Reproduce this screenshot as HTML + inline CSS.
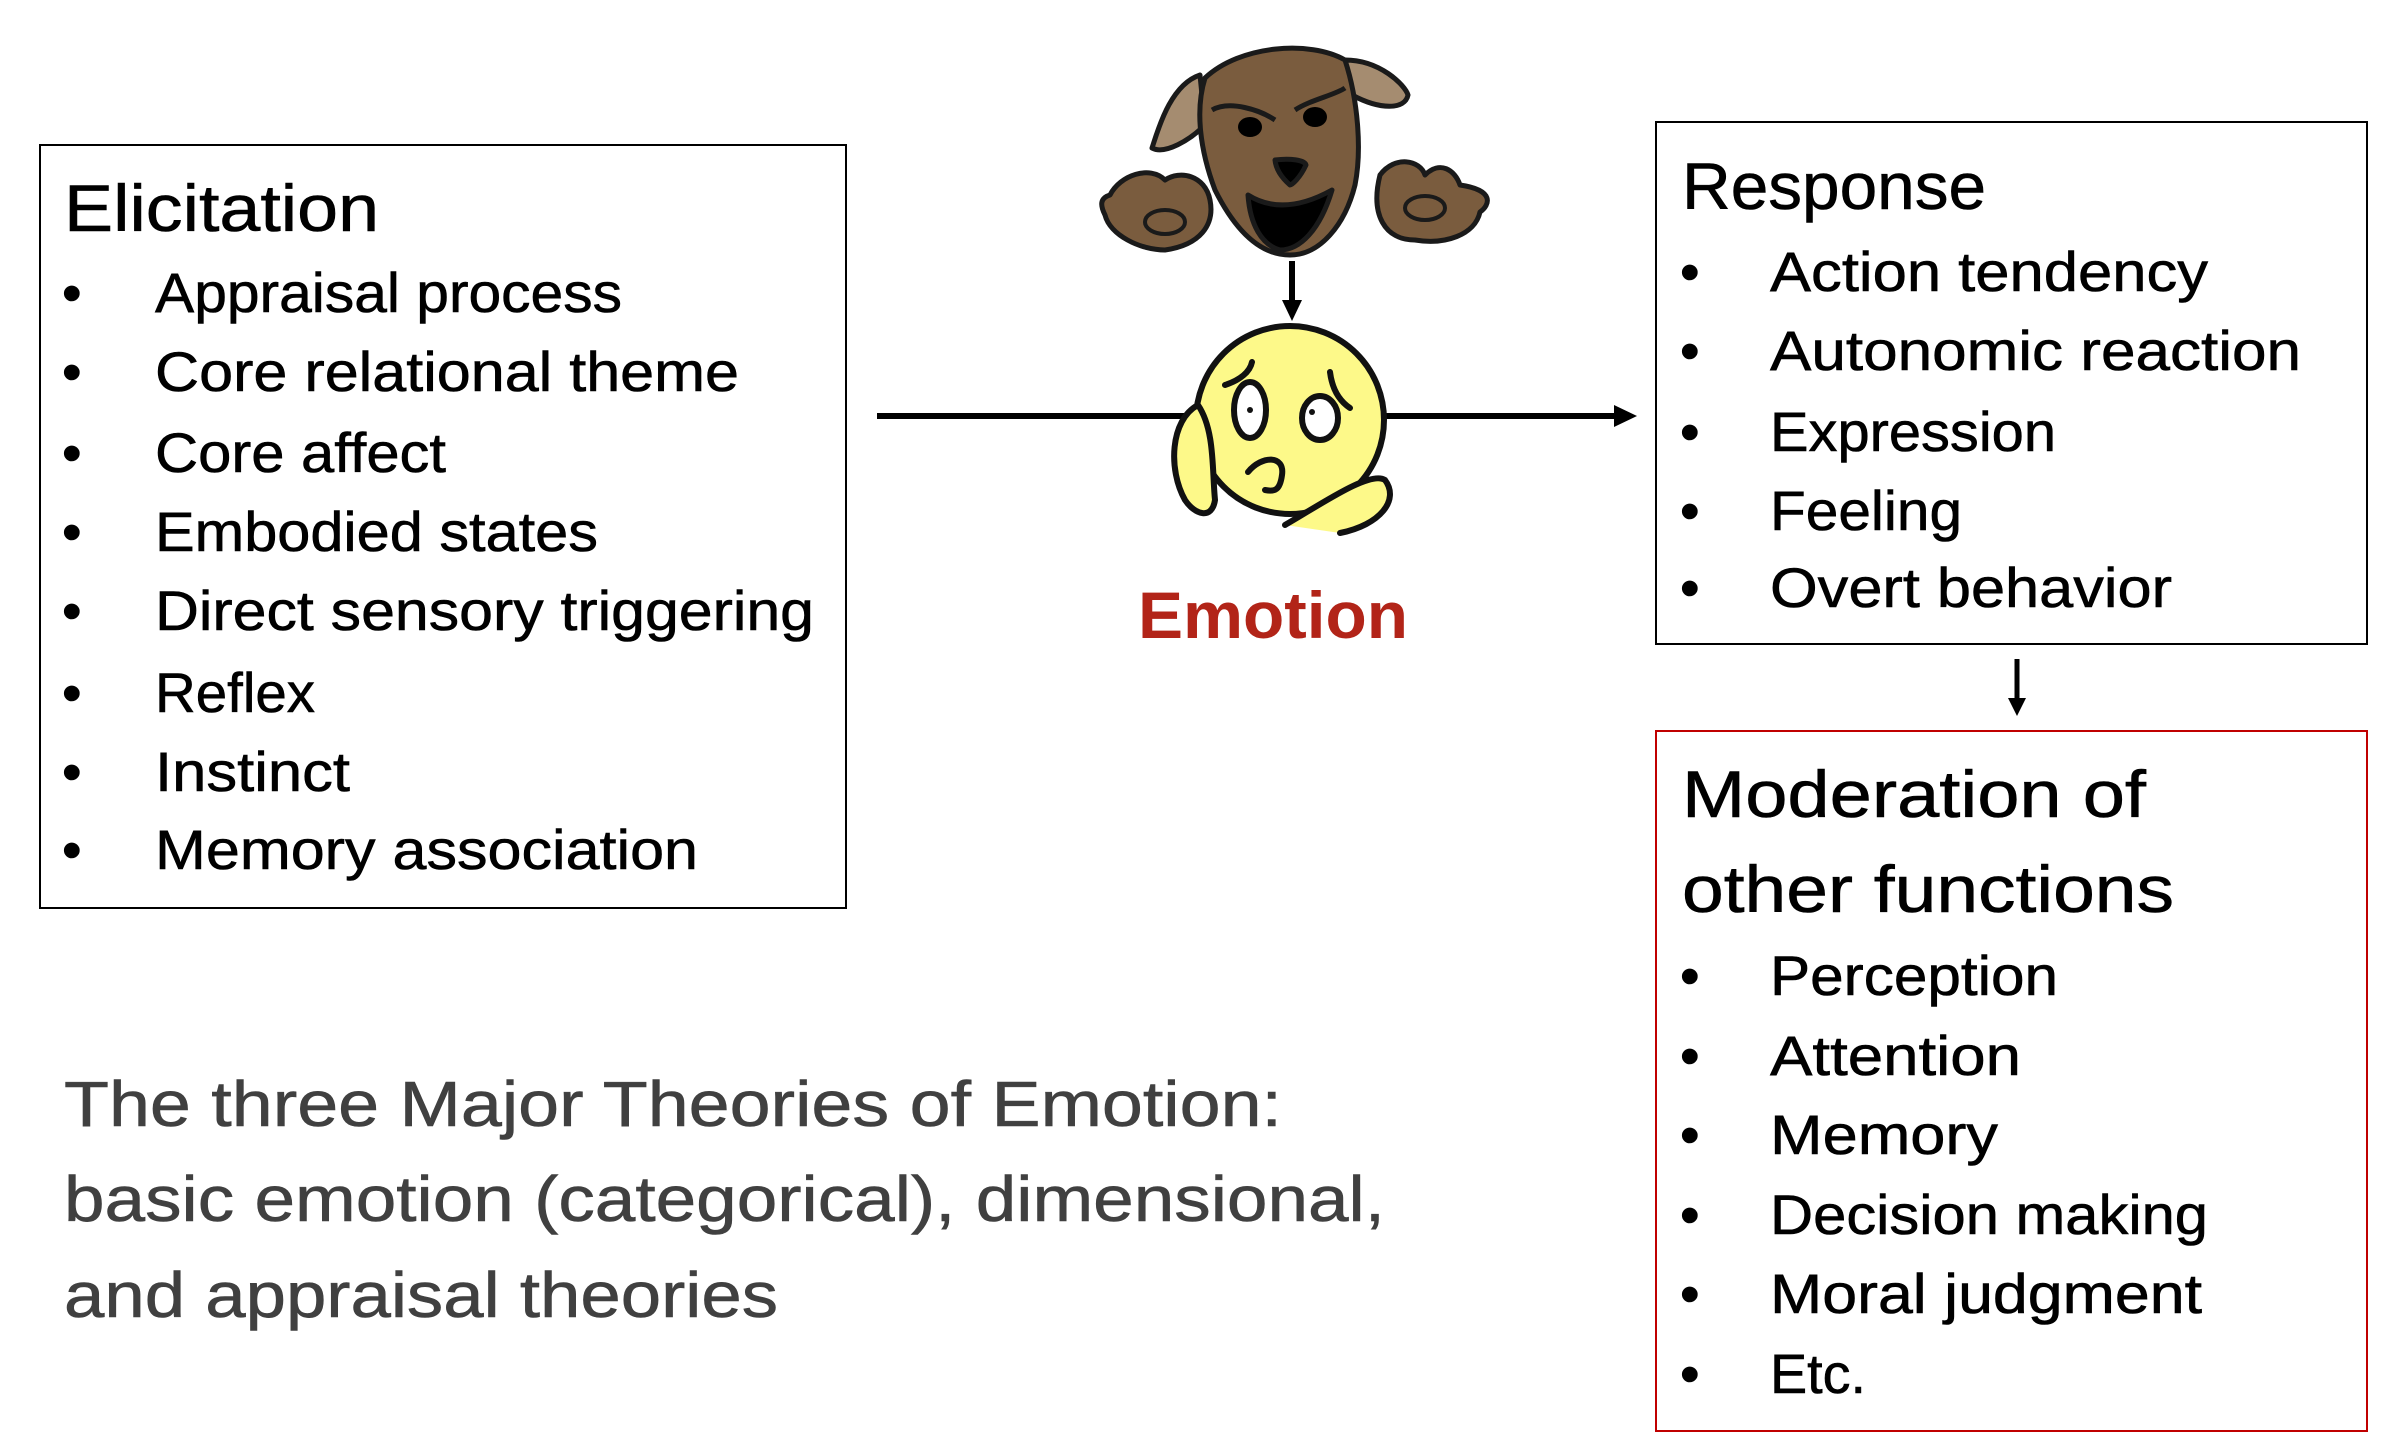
<!DOCTYPE html>
<html><head><meta charset="utf-8"><style>
html,body{margin:0;padding:0;background:#fff;}
svg{display:block;}
text{font-family:"Liberation Sans",sans-serif;}
</style></head><body>
<svg width="2386" height="1450" viewBox="0 0 2386 1450" xmlns="http://www.w3.org/2000/svg">
<!-- boxes -->
<rect x="40" y="145" width="806" height="763" fill="none" stroke="#000" stroke-width="2"/>
<rect x="1656" y="122" width="711" height="522" fill="none" stroke="#000" stroke-width="2"/>
<rect x="1656" y="731" width="711" height="700" fill="none" stroke="#c00000" stroke-width="2"/>

<g fill="#000" stroke="#000" stroke-width="0.6">
<text x="64" y="231" font-size="66" textLength="315" lengthAdjust="spacingAndGlyphs">Elicitation</text>
<g font-size="56">
<text x="62" y="312">•</text><text x="155" y="312" textLength="467" lengthAdjust="spacingAndGlyphs">Appraisal process</text>
<text x="62" y="391">•</text><text x="155" y="391" textLength="584" lengthAdjust="spacingAndGlyphs">Core relational theme</text>
<text x="62" y="472">•</text><text x="155" y="472" textLength="291" lengthAdjust="spacingAndGlyphs">Core affect</text>
<text x="62" y="551">•</text><text x="155" y="551" textLength="443" lengthAdjust="spacingAndGlyphs">Embodied states</text>
<text x="62" y="630">•</text><text x="155" y="630" textLength="659" lengthAdjust="spacingAndGlyphs">Direct sensory triggering</text>
<text x="62" y="712">•</text><text x="155" y="712" textLength="160" lengthAdjust="spacingAndGlyphs">Reflex</text>
<text x="62" y="791">•</text><text x="155" y="791" textLength="195" lengthAdjust="spacingAndGlyphs">Instinct</text>
<text x="62" y="869">•</text><text x="155" y="869" textLength="543" lengthAdjust="spacingAndGlyphs">Memory association</text>

<text x="1682" y="209" font-size="66" textLength="304" lengthAdjust="spacingAndGlyphs">Response</text>
<text x="1680" y="291">•</text><text x="1770" y="291" textLength="438" lengthAdjust="spacingAndGlyphs">Action tendency</text>
<text x="1680" y="370">•</text><text x="1770" y="370" textLength="531" lengthAdjust="spacingAndGlyphs">Autonomic reaction</text>
<text x="1680" y="451">•</text><text x="1770" y="451" textLength="286" lengthAdjust="spacingAndGlyphs">Expression</text>
<text x="1680" y="530">•</text><text x="1770" y="530" textLength="192" lengthAdjust="spacingAndGlyphs">Feeling</text>
<text x="1680" y="607">•</text><text x="1770" y="607" textLength="402" lengthAdjust="spacingAndGlyphs">Overt behavior</text>

<text x="1682" y="817" font-size="66" textLength="464" lengthAdjust="spacingAndGlyphs">Moderation of</text>
<text x="1682" y="912" font-size="66" textLength="492" lengthAdjust="spacingAndGlyphs">other functions</text>
<text x="1680" y="995">•</text><text x="1770" y="995" textLength="288" lengthAdjust="spacingAndGlyphs">Perception</text>
<text x="1680" y="1075">•</text><text x="1770" y="1075" textLength="251" lengthAdjust="spacingAndGlyphs">Attention</text>
<text x="1680" y="1154">•</text><text x="1770" y="1154" textLength="228" lengthAdjust="spacingAndGlyphs">Memory</text>
<text x="1680" y="1234">•</text><text x="1770" y="1234" textLength="438" lengthAdjust="spacingAndGlyphs">Decision making</text>
<text x="1680" y="1313">•</text><text x="1770" y="1313" textLength="432" lengthAdjust="spacingAndGlyphs">Moral judgment</text>
<text x="1680" y="1393">•</text><text x="1770" y="1393" textLength="96" lengthAdjust="spacingAndGlyphs">Etc.</text>
</g>
</g>

<g font-size="64" fill="#404040" stroke="#404040" stroke-width="0.6">
<text x="64" y="1126" textLength="1218" lengthAdjust="spacingAndGlyphs">The three Major Theories of Emotion:</text>
<text x="64" y="1221" textLength="1321" lengthAdjust="spacingAndGlyphs">basic emotion (categorical), dimensional,</text>
<text x="64" y="1317" textLength="714" lengthAdjust="spacingAndGlyphs">and appraisal theories</text>
</g>

<text x="1138" y="638" font-size="66" font-weight="bold" fill="#b22418" textLength="270" lengthAdjust="spacingAndGlyphs">Emotion</text>

<!-- arrows -->
<line x1="877" y1="416" x2="1230" y2="416" stroke="#000" stroke-width="6"/>
<line x1="1370" y1="416" x2="1618" y2="416" stroke="#000" stroke-width="6"/>
<path d="M1614,405 L1637,416 L1614,427 Z" fill="#000"/>
<line x1="1292" y1="261" x2="1292" y2="305" stroke="#000" stroke-width="6"/>
<path d="M1282,300 L1292,321 L1302,300 Z" fill="#000"/>
<line x1="2017" y1="659" x2="2017" y2="702" stroke="#000" stroke-width="5"/>
<path d="M2008,698 L2017,716 L2026,698 Z" fill="#000"/>

<!-- dog -->
<g stroke="#1a1a1a" stroke-width="5" stroke-linejoin="round">
<path d="M1200,75 C1170,85 1158,130 1152,148 C1165,155 1190,140 1205,125 Z" fill="#a58c70"/>
<path d="M1345,60 C1380,60 1405,85 1408,95 C1405,110 1380,110 1352,95 Z" fill="#a58c70"/>
<path d="M1205,78 C1240,45 1310,40 1345,60 C1358,100 1362,150 1355,185 C1345,225 1320,255 1290,255 C1260,255 1235,230 1215,190 C1200,150 1195,110 1205,78 Z" fill="#7a5c3e"/>
<path d="M1248,195 C1275,212 1305,205 1332,190 C1320,230 1300,250 1280,250 C1262,245 1250,225 1248,195 Z" fill="#000"/>
<path d="M1275,160 C1290,158 1305,160 1306,165 C1300,178 1292,185 1290,185 C1282,178 1276,170 1275,160 Z" fill="#000"/>
<ellipse cx="1250" cy="127" rx="12" ry="10" fill="#000" stroke="none"/>
<ellipse cx="1315" cy="117" rx="12" ry="10" fill="#000" stroke="none"/>
<path d="M1212,110 C1230,100 1260,110 1275,120" fill="none"/>
<path d="M1295,110 C1310,100 1335,95 1345,88" fill="none"/>
<path d="M1110,195 C1120,175 1150,165 1165,180 C1180,170 1205,175 1210,200 C1215,225 1200,245 1165,250 C1140,250 1110,235 1105,215 C1100,205 1100,198 1110,195 Z" fill="#7a5c3e"/>
<ellipse cx="1165" cy="222" rx="20" ry="12" fill="none" stroke-width="4"/>
<path d="M1380,175 C1395,155 1420,160 1425,175 C1440,160 1455,170 1460,185 C1495,190 1490,205 1480,212 C1475,235 1445,245 1415,240 C1385,240 1370,215 1380,175 Z" fill="#7a5c3e"/>
<ellipse cx="1425" cy="208" rx="20" ry="12" fill="none" stroke-width="4"/>
</g>

<!-- face -->
<g stroke="#111" stroke-width="6" stroke-linecap="round">
<circle cx="1290" cy="420" r="94" fill="#fdf989"/>
<path d="M1198,405 C1170,420 1168,470 1185,500 C1195,515 1212,520 1215,500 C1212,470 1215,430 1198,405 Z" fill="#fdf989"/>
<path d="M1285,525 C1320,505 1370,470 1385,480 C1400,500 1380,525 1340,533" fill="#fdf989"/>
<ellipse cx="1250" cy="410" rx="16" ry="28" fill="#fff"/>
<ellipse cx="1320" cy="418" rx="18" ry="22" fill="#fff"/>
<circle cx="1250" cy="410" r="3" fill="#111" stroke="none"/>
<circle cx="1312" cy="412" r="3" fill="#111" stroke="none"/>
<path d="M1225,385 C1240,380 1250,372 1252,362" fill="none"/>
<path d="M1330,372 C1332,388 1338,400 1350,408" fill="none"/>
<path d="M1248,472 C1262,455 1285,455 1282,475 C1280,490 1275,492 1265,490" fill="none"/>
</g>
</svg>
</body></html>
